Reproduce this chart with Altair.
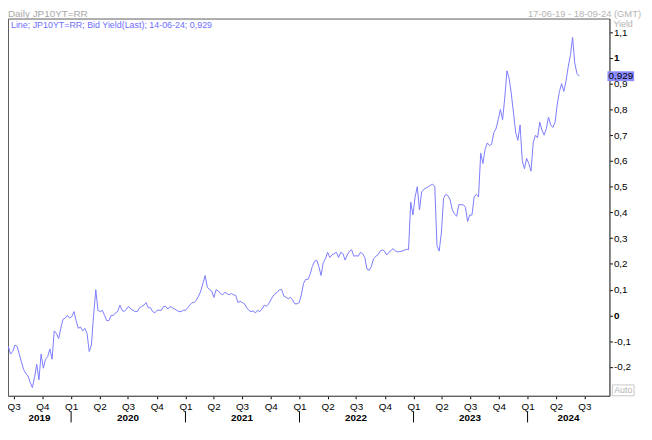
import altair as alt
import pandas as pd

# Weekly readings (Fridays) of the JP 10Y bid yield
start_date = "2019-06-14"
yield_values = [
    -0.12, -0.15, -0.14, -0.115, -0.12, -0.15, -0.18, -0.21, -0.225, -0.235,
    -0.26, -0.28, -0.24, -0.19, -0.25, -0.15, -0.205, -0.17, -0.16, -0.13,
    -0.17, -0.06, -0.07, -0.09, -0.05, -0.015, -0.01, 0.0, -0.01, -0.005,
    0.015, -0.02, -0.05, -0.045, -0.06, -0.05, -0.07, -0.14, -0.115, 0.0,
    0.10, 0.02, 0.015, 0.02, 0.0, -0.02, -0.02, 0.0, 0.0, 0.01,
    0.015, 0.04, 0.02, 0.015, 0.025, 0.035, 0.025, 0.02, 0.015, 0.015,
    0.03, 0.035, 0.04, 0.05, 0.03, 0.03, 0.015, 0.01, 0.02, 0.02,
    0.02, 0.035, 0.035, 0.025, 0.035, 0.03, 0.025, 0.02, 0.015, 0.015,
    0.02, 0.02, 0.03, 0.04, 0.05, 0.05, 0.06, 0.075, 0.095, 0.125,
    0.155, 0.11, 0.10, 0.095, 0.07, 0.10, 0.095, 0.085, 0.08, 0.09,
    0.085, 0.08, 0.085, 0.08, 0.078, 0.05, 0.055, 0.05, 0.045, 0.03,
    0.02, 0.015, 0.017, 0.01, 0.02, 0.015, 0.025, 0.04, 0.035, 0.045,
    0.06, 0.075, 0.085, 0.09, 0.10, 0.10, 0.075, 0.07, 0.065, 0.07,
    0.06, 0.045, 0.045, 0.05, 0.08, 0.125, 0.14, 0.14, 0.16, 0.19,
    0.21, 0.215, 0.19, 0.155, 0.205, 0.22, 0.245, 0.225, 0.235, 0.24,
    0.245, 0.225, 0.245, 0.24, 0.215, 0.235, 0.25, 0.255, 0.23, 0.232,
    0.23, 0.245, 0.24, 0.225, 0.18, 0.175, 0.19, 0.22, 0.23, 0.235,
    0.25, 0.255, 0.25, 0.235, 0.245, 0.252, 0.26, 0.25, 0.247, 0.248,
    0.25, 0.253, 0.257, 0.255, 0.44, 0.39, 0.46, 0.50, 0.41, 0.48,
    0.49, 0.495, 0.50, 0.505, 0.51, 0.50, 0.27, 0.25, 0.32, 0.455,
    0.47, 0.465, 0.45, 0.41, 0.395, 0.385, 0.43, 0.43, 0.43, 0.42,
    0.365, 0.39, 0.39, 0.46, 0.47, 0.46, 0.63, 0.59, 0.645, 0.67,
    0.66, 0.665, 0.71, 0.725, 0.76, 0.80, 0.76, 0.845, 0.95, 0.92,
    0.86, 0.785, 0.71, 0.68, 0.74, 0.60, 0.57, 0.61, 0.59, 0.56,
    0.67, 0.70, 0.69, 0.75, 0.72, 0.70, 0.725, 0.77, 0.74, 0.73,
    0.75, 0.82, 0.87, 0.90, 0.87, 0.91, 0.965, 1.01, 1.08, 0.98,
    0.94, 0.929,
]

y_ticks = [-0.2, -0.1, 0, 0.1, 0.2, 0.3, 0.4, 0.5, 0.6, 0.7, 0.8, 0.9, 1, 1.1]
year_labels = ["2019", "2020", "2021", "2022", "2023", "2024"]
year_label_dates = ["2019-09-22", "2020-07-01", "2021-07-01", "2022-07-01", "2023-07-01", "2024-05-11"]
year_start_dates = ["2020-01-01", "2021-01-01", "2022-01-01", "2023-01-01", "2024-01-01"]
quarter_starts = [(y, m) for y in range(2019, 2025) for m in (1, 4, 7, 10)
                  if (2019, 7) <= (y, m) <= (2024, 7)]

last_value = yield_values[-1]
last_text = f"{last_value:.3f}".replace(".", ",")
legend_text = f"Line; JP10YT=RR; Bid Yield(Last); 14-06-24; {last_text}"

dates = pd.date_range(start_date, periods=len(yield_values), freq="7D").strftime("%Y-%m-%d")
df = pd.DataFrame({"date": list(dates), "value": yield_values})
years_df = pd.DataFrame({"year": year_labels, "date": year_label_dates})
sep_df = pd.DataFrame({"date": year_start_dates})
last_df = pd.DataFrame({"value": [last_value], "label": [last_text]})

W, H = 609, 382
FONT = "Liberation Sans"
LINE = "#7b7bff"

x_scale = alt.Scale(type="utc",
                    domain=[alt.DateTime(year=2019, month=6, date=13, utc=True),
                            alt.DateTime(year=2024, month=9, date=19, utc=True)])
y_scale = alt.Scale(domain=[-0.312, 1.153], nice=False, zero=False)


def make_x_axis():
    return alt.Axis(
        values=[alt.DateTime(year=y, month=m, date=1, utc=True) for y, m in quarter_starts],
        labelExpr="'Q' + (floor(utcmonth(datum.value) / 3) + 1)",
        tickSize=3, tickColor="#000", domainColor="#5a5a5a", labelColor="#000",
        labelFont=FONT, labelFontSize=10, labelPadding=2.5, grid=False, title=None,
        labelOverlap=False, labelFlush=False, labelBound=False,
    )


def make_y_axis():
    return alt.Axis(
        orient="right", values=y_ticks,
        labelExpr="replace(replace(format(datum.value, '.1~f'), '.', ','), '\u2212', '-')",
        labelFontWeight=alt.condition("datum.value == 0 || datum.value == 1",
                                      alt.value("bold"), alt.value("normal")),
        tickSize=3, tickColor="#000", domainColor="#5a5a5a", labelColor="#000",
        labelFont=FONT, labelFontSize=10, labelPadding=1, grid=False, title=None,
        labelOverlap=False, labelFlush=False, labelBound=False,
    )


line = alt.Chart(df).mark_line(color=LINE, strokeWidth=1, interpolate="linear").encode(
    x=alt.X("date:T", scale=x_scale, axis=make_x_axis()),
    y=alt.Y("value:Q", scale=y_scale, axis=make_y_axis()),
)

seps = alt.Chart(sep_df).mark_rule(color="#000", strokeWidth=1).encode(
    x=alt.X("date:T", scale=x_scale, axis=make_x_axis()),
    y=alt.value(H + 16), y2=alt.value(H + 27),
)

years = alt.Chart(years_df).mark_text(font=FONT, fontSize=10, fontWeight="bold",
                                      color="#000", baseline="middle").encode(
    x=alt.X("date:T", scale=x_scale, axis=make_x_axis()),
    y=alt.value(H + 22.5),
    text="year:N",
)

box = alt.Chart(last_df).mark_point(
    shape="M-1,-0.37H1V0.37H-1Z", size=729, filled=True, opacity=1,
    color="#8c8cff", strokeWidth=0,
).encode(x=alt.value(620.5), y=alt.Y("value:Q", scale=y_scale, axis=make_y_axis()))

box_text = alt.Chart(last_df).mark_text(
    font=FONT, fontSize=10, color="#000", align="left", baseline="middle"
).encode(x=alt.value(608), y=alt.Y("value:Q", scale=y_scale, axis=make_y_axis()), text="label:N")

legend = alt.Chart(last_df).mark_text(
    font=FONT, fontSize=9, color="#6e6eff", align="left", baseline="middle"
).encode(x=alt.value(3), y=alt.value(7), text=alt.value(legend_text))

header_left = alt.Chart(last_df).mark_text(
    font=FONT, fontSize=10, color="#a8a8a8", align="left", baseline="middle"
).encode(x=alt.value(0), y=alt.value(-4.5), text=alt.value("Daily JP10YT=RR"))

header_right = alt.Chart(last_df).mark_text(
    font=FONT, fontSize=9.5, color="#b4b4b4", align="right", baseline="middle"
).encode(x=alt.value(641), y=alt.value(-4.5), text=alt.value("17-06-19 - 18-09-24 (GMT)"))

yield_title = alt.Chart(last_df).mark_text(
    font=FONT, fontSize=9, color="#b4b4b4", align="left", baseline="middle"
).encode(x=alt.value(613), y=alt.value(5.5), text=alt.value("Yield"))

auto_box = alt.Chart(last_df).mark_rect(fill="#ffffff", stroke="#c8c8c8", strokeWidth=1).encode(
    x=alt.value(612), x2=alt.value(634), y=alt.value(371), y2=alt.value(382)
)
auto_text = alt.Chart(last_df).mark_text(
    font=FONT, fontSize=9, color="#b4b4b4", align="center", baseline="middle"
).encode(x=alt.value(623), y=alt.value(376.5), text=alt.value("Auto"))

chart = alt.layer(
    line, seps, years, box, box_text, legend, header_left, header_right,
    yield_title, auto_box, auto_text,
).properties(
    width=W, height=H,
    padding={"left": 0, "top": 8, "right": 35, "bottom": 34},
    autosize=alt.AutoSizeParams(type="none"),
).configure_view(stroke="#5a5a5a", strokeWidth=1)

chart.save("out.html", embed_options={"renderer": "svg", "actions": False})
